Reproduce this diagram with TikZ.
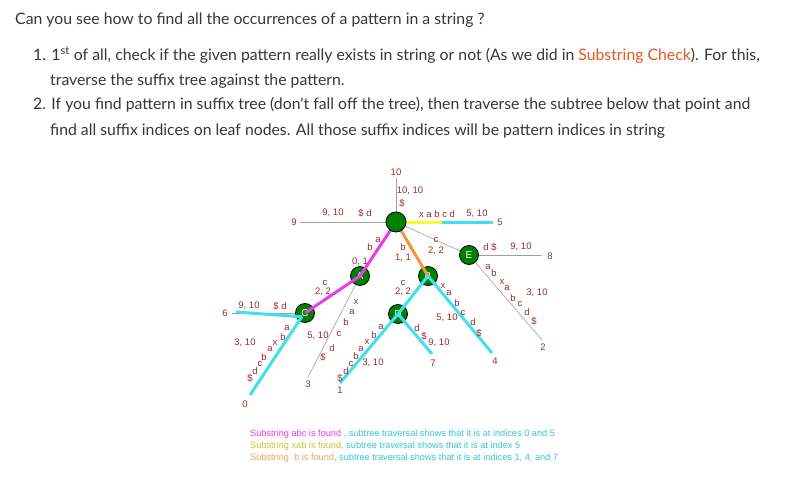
\documentclass[tikz,border=0pt]{standalone}
\usepackage{fontspec}
\setmainfont{Liberation Sans}
\newfontfamily\topfont{Lato}
\usetikzlibrary{calc}
\definecolor{mag}{RGB}{235,60,235}
\definecolor{cy}{RGB}{64,224,240}
\definecolor{yel}{RGB}{250,250,50}
\definecolor{yeltxt}{RGB}{200,200,40}
\definecolor{ora}{RGB}{240,150,60}
\definecolor{oratxt}{RGB}{245,160,90}
\definecolor{cytxt}{RGB}{50,200,215}
\definecolor{ngreen}{RGB}{0,128,0}
\definecolor{lblc}{RGB}{160,40,45}
\definecolor{linkc}{RGB}{232,85,40}
\definecolor{txt}{RGB}{55,55,55}
\newcommand\lb[2]{\node[lbl] at (#1) {#2};}
\begin{document}
\begin{tikzpicture}[x=1pt,y=-1pt,
  lbl/.style={inner sep=0pt,text=lblc,font=\fontsize{9.5}{11}\selectfont},
  tnode/.style={circle,draw=black,line width=0.8pt,fill=ngreen,minimum size=19pt,inner sep=0pt,text=white,font=\fontsize{10}{11}\selectfont},
  thinedge/.style={draw=gray!75,line width=0.6pt},
  thick/.style={line width=3pt},
  toptext/.style={anchor=base west,inner sep=0pt,text=txt,font=\topfont\fontsize{15.8}{18}\selectfont},
  bottext/.style={anchor=base west,inner sep=0pt,font=\fontsize{9.2}{10}\selectfont}]
\useasboundingbox (0,0) rectangle (806,482);
\fill[white] (0,0) rectangle (806,482);
% top text
\node[toptext] (t1) at (15,24) {Can you see how to find all the occurrences of a pattern in a string ?};
\node[toptext] (t2) at (33,60) {1. 1\textsuperscript{st} of all, check if the given pattern really exists in string or not (As we did in \textcolor{linkc}{Substring Check}). For this,};
\node[toptext] (t3) at (50,85) {traverse the suffix tree against the pattern.};
\node[toptext] (t4) at (33,109) {2. If you find pattern in suffix tree (don't fall off the tree), then traverse the subtree below that point and};
\node[toptext] (t5) at (50,135) {find all suffix indices on leaf nodes. All those suffix indices will be pattern indices in string};
% tree nodes
\coordinate (R) at (396,222);
\node[tnode] (A) at (360,276) {A};
\node[tnode] (B) at (428,276) {B};
\node[tnode] (C) at (305,313) {C};
\node[tnode] (D) at (398,314) {D};
\node[tnode] (E) at (469,255) {E};
% leaves
\coordinate (l10) at (396,178);
\coordinate (l9) at (300,222);
\coordinate (ym) at (442,222);
\coordinate (l5) at (493,222);
\coordinate (l8) at (542,255);
\coordinate (l2) at (542,340);
\coordinate (l6) at (232,313);
\coordinate (l6c) at (236,312);
\coordinate (l0) at (250,395);
\coordinate (l3) at (308,377);
\coordinate (l1) at (340,383);
\coordinate (l7) at (432,354);
\coordinate (l4) at (492,353);
% thin edges
\path[thinedge] (R) -- (l10);
\path[thinedge] (R) -- (l9);
\path[thinedge] (R) -- (E);
\path[thinedge] (E) -- (l8);
\path[thinedge] (E) -- (l2);
\path[thinedge] (A) -- (l3);
\path[thinedge] (C) -- (l6);
% coloured edges
\draw[thick,mag] (R) -- (A.center) -- (C.center);
\draw[thick,ora] (R) -- (B.center);
\draw[thick,yel] (R) -- (ym);
\draw[thick,cy] (ym) -- (l5);
\draw[thick,cy] (B.center) -- (D.center);
\draw[thick,cy] (B.center) -- (l4);
\draw[thick,cy] (D.center) -- (l1);
\draw[thick,cy] (D.center) -- (l7);
\draw[thick,cy] ($(C.center)!0.5!(C.230)$) -- (l0);
\draw[thick,cy] ($(C.center)!0.5!(C.230)$) -- (l6c);
% root
\node[tnode,minimum size=20pt] (root) at (R) {};
% labels
\lb{396,172}{10}
\lb{410,191}{10, 10}
\lb{402,203}{\$}
\lb{294,222}{9}
\lb{333,213}{9, 10}
\lb{365,213}{\$ d}
\lb{437,214}{x a b c d}
\lb{477,214}{5, 10}
\lb{500,222}{5}
\lb{436,240}{c}
\lb{436,251}{2, 2}
\lb{490,247}{d \$}
\lb{521,247}{9, 10}
\lb{550,256}{8}
\foreach \x/\y/\t in {488/267/a,494/273/b,502/282/x,507/288/a,513/298/b,520/304/c,527/312/d,534/321/\$}{\lb{\x,\y}{\t}}
\lb{537,293}{3, 10}
\lb{543,347}{2}
\lb{370,247}{b}
\lb{378,240}{a}
\lb{360,262}{0, 1}
\lb{403,247}{b}
\lb{403,258}{1, 1}
\lb{325,283}{c}
\lb{323,292}{2, 2}
\lb{403,283}{c}
\lb{403,292}{2, 2}
\lb{249,306}{9, 10}
\lb{280,306}{\$ d}
\lb{225,313}{6}
\foreach \x/\y/\t in {287/328/a,283/337/b,275/343/x,270/349/a,264/357/b,260/364/c,255/371/d,250/378/\$}{\lb{\x,\y}{\t}}
\lb{245,343}{3, 10}
\lb{245,404}{0}
\foreach \x/\y/\t in {356/302/x,352/312/a,346/322/b,339/334/c,332/348/d,323/357/\$}{\lb{\x,\y}{\t}}
\lb{318,336}{5, 10}
\lb{308,384}{3}
\foreach \x/\y/\t in {381/327/a,374/335/b,367/342/x,361/349/a,356/356/b,351/364/c,346/371/d,340/378/\$}{\lb{\x,\y}{\t}}
\lb{373,363}{3, 10}
\lb{340,390}{1}
\foreach \x/\y/\t in {443/286/x,449/293/a,457/303/b,463/313/c,473/322/d,479/333/\$}{\lb{\x,\y}{\t}}
\lb{447,318}{5, 10}
\lb{495,361}{4}
\lb{417,328}{d}
\lb{424,336}{\$}
\lb{439,343}{9, 10}
\lb{433,363}{7}
% bottom text
\node[bottext] (b1) at (250,436) {\textcolor{mag}{Substring abc is found} \textcolor{cytxt}{, subtree traversal shows that it is at indices 0 and 5}};
\node[bottext] (b2) at (250,448) {\textcolor{yeltxt}{Substring xab is found}\textcolor{cytxt}{, subtree traversal shows that it is at index 5}};
\node[bottext] (b3) at (250,460) {\textcolor{oratxt}{Substring\ \ b is found}\textcolor{cytxt}{, subtree traversal shows that it is at indices 1, 4, and 7}};
\end{tikzpicture}
\end{document}
